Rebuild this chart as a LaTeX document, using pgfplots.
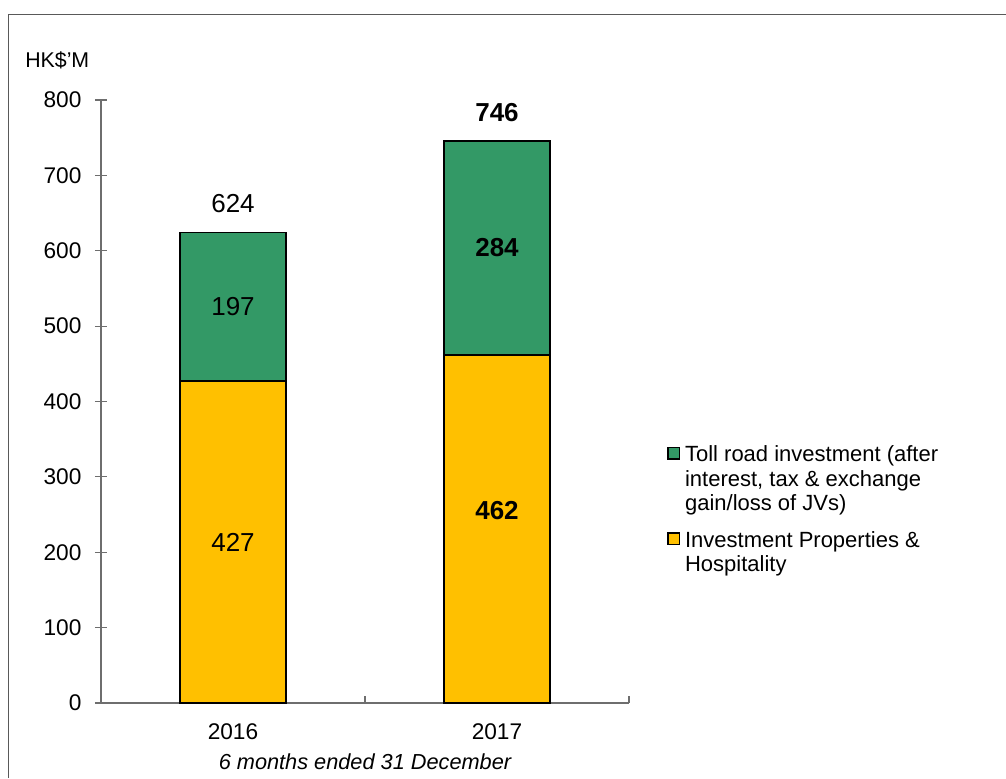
\documentclass[border=0pt]{standalone}
\usepackage{pgfplots}
\pgfplotsset{compat=1.18}
\usepackage{fontspec}
\setmainfont{Liberation Sans}
\definecolor{tollgreen}{RGB}{51,153,102}
\definecolor{propyellow}{RGB}{255,192,0}
\definecolor{axisgray}{RGB}{110,110,110}
\newcommand{\vlab}{\fontsize{19.5pt}{22pt}\selectfont}
\pgfplotsset{
  yelleg/.style={legend image code/.code={\draw[##1, line width=1.1pt] (0pt,6.4pt) rectangle (8.6pt,15pt);}},
  grnleg/.style={legend image code/.code={\draw[##1, line width=1.1pt] (0pt,15.7pt) rectangle (8.6pt,24.3pt);}},
}
\begin{document}
\fontsize{16pt}{18.4pt}\selectfont
\begin{tikzpicture}
\useasboundingbox (0,0) rectangle (754.5pt,583.5pt);
\draw[black!65, line width=1.1pt] (6.375pt,0) -- (6.375pt,572.6pt) -- (754.5pt,572.6pt);
\node[anchor=west, inner sep=0pt] at (18.75pt,538.5pt) {HK\$'M};
\begin{axis}[
  at={(75.75pt,56.25pt)}, anchor=south west,
  scale only axis, width=396pt, height=452.25pt,
  ybar stacked, bar width=79.5pt,
  xmin=-0.5, xmax=1.5, ymin=0, ymax=800,
  axis x line=bottom, axis y line=left,
  axis line style={-, draw=axisgray, line width=0.8pt},
  xtick={0,1}, xticklabels={2016,2017},
  minor xtick={0.5,1.5},
  ytick={0,100,...,800},
  tick align=center,
  major tick length=9pt, minor tick length=5.4pt,
  major x tick style={draw=none},
  minor x tick style={draw=axisgray, line width=0.8pt, yshift=2.7pt},
  major y tick style={draw=axisgray, line width=0.8pt},
  /pgf/number format/assume math mode=true,
  tick label style={font=\fontsize{17pt}{19pt}\selectfont},
  xticklabel style={anchor=north, inner sep=0pt, yshift=-11pt},
  yticklabel style={anchor=east, inner sep=0pt, xshift=-10pt},
  xlabel={\itshape 6 months ended 31 December},
  xlabel style={at={(axis description cs:0.5,0)}, anchor=north, inner sep=0pt, yshift=-37.5pt,
    font=\fontsize{16.3pt}{18.4pt}\selectfont},
  reverse legend,
  legend cell align=left,
  legend style={at={(1.064,0.436)}, anchor=north west, draw=none, fill=none,
    cells={align=left}, row sep=9pt,
    /tikz/every odd column/.append style={column sep=1.8pt},
    font=\fontsize{16.5pt}{18.4pt}\selectfont},
  clip=false,
  after end axis/.code={
    \node[font=\vlab] at (axis cs:0,213.5) {427};
    \node[font=\vlab] at (axis cs:0,525.5) {197};
    \node[font=\vlab] at (axis cs:0,662) {624};
    \node[font=\vlab\bfseries] at (axis cs:1,255) {462};
    \node[font=\vlab\bfseries] at (axis cs:1,604) {284};
    \node[font=\vlab\bfseries] at (axis cs:1,784) {746};
  },
]
\addplot[fill=propyellow, draw=black, line width=1.2pt, yelleg]
  coordinates {(0,427) (1,462)};
\addlegendentry{Investment Properties \&\\Hospitality}
\addplot[fill=tollgreen, draw=black, line width=1.2pt, grnleg]
  coordinates {(0,197) (1,284)};
\addlegendentry{Toll road investment (after\\interest, tax \& exchange\\gain/loss of JVs)}
\end{axis}
\end{tikzpicture}
\end{document}
